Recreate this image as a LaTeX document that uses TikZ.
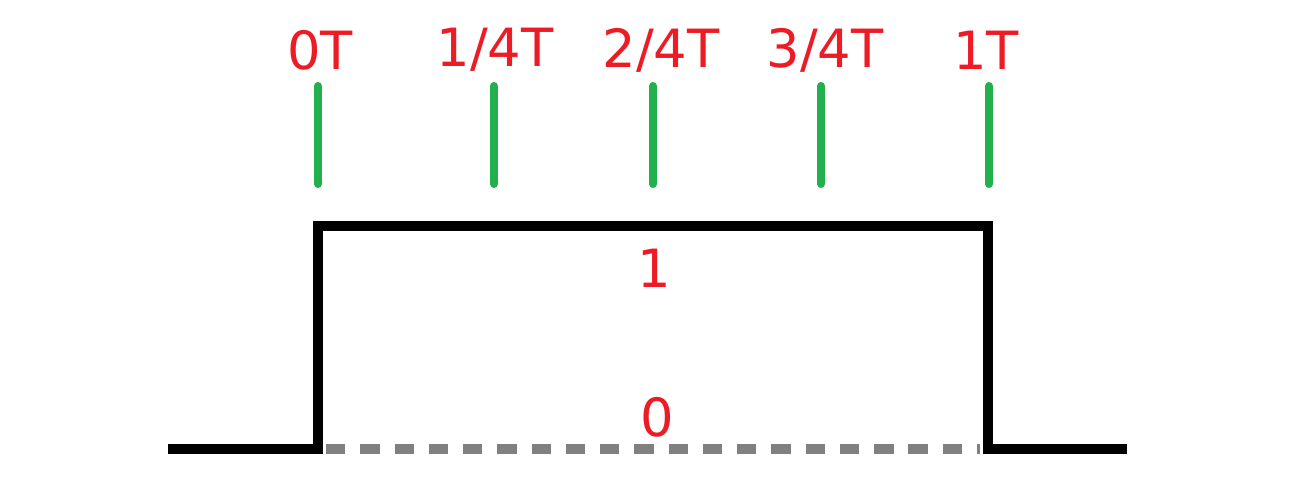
\documentclass[tikz,border=0pt]{standalone}
\usepackage{fontspec}
\setmainfont{DejaVu Sans}
\usepackage{tikz}
\usetikzlibrary{positioning, calc}
\definecolor{paintred}{RGB}{237,28,36}
\definecolor{paintgreen}{RGB}{34,177,76}
\definecolor{paintgray}{RGB}{128,128,128}
\tikzset{
  wave/.style={line width=5.6pt, black, line join=miter},
  zero/.style={line width=5.6pt, paintgray, dash pattern=on 11pt off 8.5pt},
  tick/.style={line width=4.6pt, paintgreen, line cap=round},
  lbl/.style={font=\fontsize{30}{32}\selectfont, text=paintred, inner sep=0pt}
}
\begin{document}
\begin{tikzpicture}[x=0.02cm, y=-0.02cm]
  \useasboundingbox (0,0) rectangle (1302,489);
  % levels
  \node[lbl] (one) at (654,268) {1};
  \node[lbl] (nil) at (657,417) {0};
  % zero level, dashed
  \coordinate (z0) at (326,449);
  \coordinate (z1) at (980,449);
  \draw[zero] (z0) -- (z1);
  % pulse
  \coordinate (lo) at (168,449);
  \coordinate (up) at (318,449);
  \coordinate (dn) at (988,449);
  \coordinate (hi) at (1127,449);
  \draw[wave] (lo) -- (up) -- (318,226) -- (988,226) -- (dn) -- (hi);
  % time marks
  \foreach \x/\t/\n in {320/0T/t0, 495/1\slash 4T/t1, 661/2\slash 4T/t2, 825/3\slash 4T/t3, 986/1T/t4}{
    \node[lbl] (\n) at (\x,50) {\t};
  }
  \foreach \x in {318,494,653,821,989}{
    \draw[tick] (\x,86) -- (\x,184);
  }
\end{tikzpicture}
\end{document}
